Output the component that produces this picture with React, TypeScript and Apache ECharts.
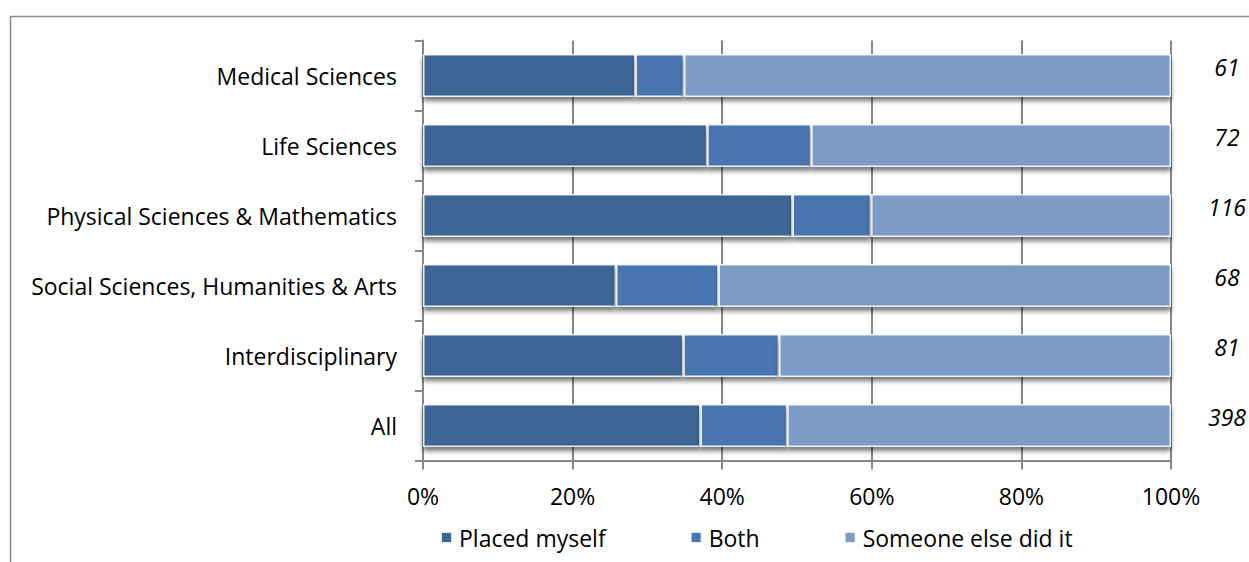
import React, { useEffect, useRef } from "react";
import * as echarts from "echarts";

const categories = [
  "Medical Sciences",
  "Life Sciences",
  "Physical Sciences & Mathematics",
  "Social Sciences, Humanities & Arts",
  "Interdisciplinary",
  "All",
];
const placedMyself = [28.4, 38.0, 49.4, 25.8, 34.8, 37.1];
const both = [6.5, 13.9, 10.5, 13.7, 12.8, 11.6];
const someoneElse = [65.1, 48.1, 40.1, 60.5, 52.4, 51.3];
const counts = ["61", "72", "116", "68", "81", "398"];
const seriesNames = ["Placed myself", "Both", "Someone else did it"];
const colors = ["#3d6596", "#4876b0", "#7e9bc7"];

const FONT = "'Open Sans', sans-serif";
const FS = 23;

export default function App() {
  const ref = useRef<HTMLDivElement>(null);
  useEffect(() => {
    document.body.style.margin = "0";
    const chart = echarts.init(ref.current!, undefined, { renderer: "svg" });
    const values = [placedMyself, both, someoneElse];
    chart.setOption({
      animation: false,
      textStyle: { fontFamily: FONT },
      grid: { left: 423, right: 75, top: 40.5, bottom: 101.5, containLabel: false },
      legend: {
        top: 521,
        left: 435,
        itemWidth: 11,
        itemHeight: 11,
        itemGap: 84,
        icon: "rect",
        textStyle: { fontSize: FS, color: "#000", fontFamily: FONT, padding: [0, 0, 0, 2] },
        data: seriesNames,
      },
      xAxis: {
        type: "value",
        min: 0,
        max: 100,
        interval: 20,
        axisLine: { show: true, lineStyle: { color: "#868686", width: 2 } },
        axisTick: { show: true, length: 9, lineStyle: { color: "#868686", width: 2 } },
        splitLine: { show: true, lineStyle: { color: "#868686", width: 2 } },
        axisLabel: {
          formatter: "{value}%",
          fontSize: FS,
          color: "#000",
          margin: 24,
          fontFamily: FONT,
        },
      },
      yAxis: [
        {
          type: "category",
          data: categories,
          inverse: true,
          axisLine: { show: true, lineStyle: { color: "#868686", width: 2 } },
          axisTick: { show: true, length: 8, lineStyle: { color: "#868686", width: 2 } },
          axisLabel: { fontSize: FS, color: "#000", margin: 26, fontFamily: FONT },
        },
        {
          type: "category",
          data: counts,
          inverse: true,
          position: "right",
          axisLine: { show: false },
          axisTick: { show: false },
          axisLabel: {
            align: "center",
            margin: 56,
            formatter: (v: string) => "{c|" + v + "}",
            rich: {
              c: {
                fontSize: FS,
                color: "#000",
                fontStyle: "italic",
                fontFamily: FONT,
                padding: [0, 0, 18, 0],
              },
            },
          },
        },
      ],
      series: seriesNames.map((name, i) => ({
        name,
        type: "bar",
        stack: "total",
        yAxisIndex: 0,
        barWidth: 43,
        data: values[i],
        itemStyle: {
          color: colors[i],
          borderColor: "rgba(255,255,255,0.85)",
          borderWidth: 1.5,
          shadowColor: "rgba(0,0,0,0.55)",
          shadowBlur: 5,
          shadowOffsetY: 4,
        },
      })),
      graphic: [
        {
          type: "rect",
          shape: { x: 10.5, y: 16.5, width: 1400, height: 700 },
          style: { fill: "none", stroke: "#8a8a8a", lineWidth: 1.5 },
          silent: true,
          z: -1,
        },
      ],
    });
    return () => chart.dispose();
  }, []);
  return <div ref={ref} style={{ width: 1249, height: 562 }} />;
}
